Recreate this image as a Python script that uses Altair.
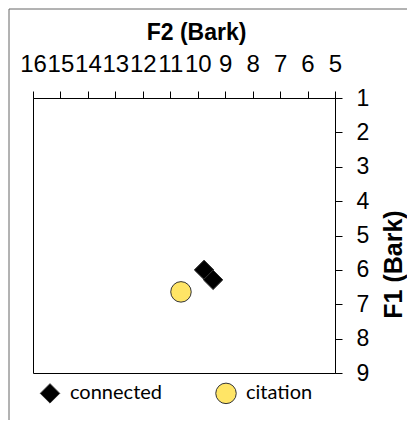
import altair as alt
import pandas as pd

# data
groups = ["connected", "connected", "citation"]
f2_bark = [9.77, 9.44, 10.61]
f1_bark = [6.00, 6.29, 6.64]

x_ticks = list(range(5, 17))
y_ticks = list(range(1, 10))

df = pd.DataFrame({"group": groups, "F2": f2_bark, "F1": f1_bark})

FONT = "Liberation Sans"

frame = alt.Chart(pd.DataFrame({"a": [0]})).mark_rect(
    fill="transparent", stroke="#666666", strokeWidth=1
).encode(
    x=alt.value(-24), x2=alt.value(420), y=alt.value(-89), y2=alt.value(420)
)

leg = dict(
    title=None, orient="none", direction="horizontal", columns=2,
    legendX=6, legendY=284, columnPadding=50,
    labelFont="Lato", labelFontSize=20, labelColor="#000",
    symbolStrokeColor="#333", symbolStrokeWidth=1,
    labelOffset=9,
)

points = alt.Chart(df).mark_point(
    filled=True, stroke="#333333", strokeWidth=1, opacity=1
).encode(
    x=alt.X(
        "F2:Q",
        scale=alt.Scale(domain=[5, 16], reverse=True, nice=False, zero=False),
        axis=alt.Axis(
            orient="top", title="F2 (Bark)", values=x_ticks, format="d",
            grid=False, labelOverlap=False, labelFlush=False,
            tickSize=7, tickColor="#000", domainColor="#000",
            labelFont=FONT, labelFontSize=24, labelColor="#000", labelPadding=15,
            titleFont=FONT, titleFontSize=23, titleFontWeight="bold", titleColor="#000",
            titleX=163, titleY=-59, titleBaseline="alphabetic", titleAlign="center",
        ),
    ),
    y=alt.Y(
        "F1:Q",
        scale=alt.Scale(domain=[1, 9], reverse=True, nice=False, zero=False),
        axis=alt.Axis(
            orient="right", title="F1 (Bark)", values=y_ticks, format="d",
            grid=False, labelOverlap=False, labelFlush=False,
            tickSize=7, tickColor="#000", domainColor="#000",
            labelFont=FONT, labelFontSize=23, labelColor="#000", labelPadding=14,
            titleFont=FONT, titleFontSize=25, titleFontWeight="bold", titleColor="#000",
            titleAngle=270, titleX=66, titleY=166, titleBaseline="alphabetic", titleAlign="center",
        ),
    ),
    shape=alt.Shape(
        "group:N",
        scale=alt.Scale(domain=["connected", "citation"], range=["diamond", "circle"]),
        legend=alt.Legend(**leg),
    ),
    color=alt.Color(
        "group:N",
        scale=alt.Scale(domain=["connected", "citation"], range=["#000000", "#FFE566"]),
        legend=alt.Legend(**leg),
    ),
    size=alt.Size(
        "group:N",
        scale=alt.Scale(domain=["connected", "citation"], range=[380, 420]),
        legend=None,
    ),
)

chart = alt.layer(frame, points).properties(
    width=302, height=275,
    autosize=alt.AutoSizeParams(type="none"),
    padding={"left": 25, "top": 90, "right": 72, "bottom": 47},
    background="white",
).configure_view(stroke="#000", strokeWidth=1)

chart.save("out.html", embed_options={"renderer": "svg", "actions": False})
